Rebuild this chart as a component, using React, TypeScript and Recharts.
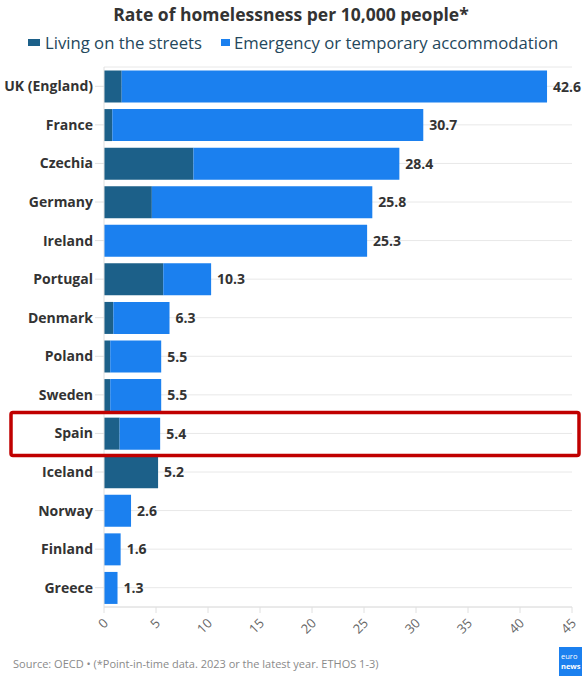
import React from 'react';
import { BarChart, Bar, XAxis, YAxis, CartesianGrid, LabelList } from 'recharts';

const countries = ['UK (England)', 'France', 'Czechia', 'Germany', 'Ireland', 'Portugal', 'Denmark', 'Poland', 'Sweden', 'Spain', 'Iceland', 'Norway', 'Finland', 'Greece'];
const totals = [42.6, 30.7, 28.4, 25.8, 25.3, 10.3, 6.3, 5.5, 5.5, 5.4, 5.2, 2.6, 1.6, 1.3];
const streets = [1.7, 0.8, 8.6, 4.6, 0, 5.7, 0.9, 0.6, 0.6, 1.5, 5.2, 0, 0, 0];
const xTicks = [0, 5, 10, 15, 20, 25, 30, 35, 40, 45];
const highlighted = 'Spain';

const DARK = '#1c6089';
const BLUE = '#1b80ef';
const FONT = '"Open Sans", "Noto Sans", sans-serif';

const data = countries.map((name, i) => {
  const emergency = Math.round((totals[i] - streets[i]) * 10) / 10;
  return {
    name,
    streets: streets[i],
    emergency,
    total: totals[i],
    // label sits on whichever segment ends the bar
    endOnStreets: emergency === 0 ? totals[i] : null,
    endOnEmergency: emergency === 0 ? null : totals[i],
  };
});

function CountryTick(props: any) {
  const { x, y, payload } = props;
  return (
    <g>
      {payload.value === highlighted && (
        <rect x={11} y={y - 21} width={568} height={43} rx={2} fill="none" stroke="#c00000" strokeWidth={3.5} />
      )}
      <text x={x} y={y} dy={5} textAnchor="end" fontSize={14} fontWeight={700} fill="#333" fontFamily={FONT}>
        {payload.value}
      </text>
    </g>
  );
}

function ValueTick(props: any) {
  const { x, y, payload } = props;
  const ax = x + 5;
  const ay = y + 9;
  return (
    <text x={ax} y={ay} transform={`rotate(-45, ${ax}, ${ay})`} textAnchor="end" fontSize={13} fill="#666" fontFamily={FONT}>
      {payload.value}
    </text>
  );
}

function TotalLabel(props: any) {
  const { x, y, width, height, value } = props;
  if (value === null || value === undefined) return null;
  return (
    <text x={x + width + 6} y={y + height / 2} dy={5} fontSize={14} fontWeight={700} fill="#333" fontFamily={FONT}>
      {value}
    </text>
  );
}

export default function App() {
  return (
    <div style={{ position: 'absolute', left: 0, top: 0, width: 582, height: 676, background: '#fff', fontFamily: FONT, overflow: 'hidden' }}>
      <div style={{ position: 'absolute', top: 2, left: 0, width: 582, textAlign: 'center', fontSize: 17.5, fontWeight: 700, color: '#333' }}>
        Rate of homelessness per 10,000 people*
      </div>
      <div style={{ position: 'absolute', top: 31, left: 28, display: 'flex', alignItems: 'center', fontSize: 16.7, color: '#24475c', whiteSpace: 'nowrap' }}>
        <span style={{ display: 'inline-block', width: 12, height: 7, background: DARK, marginRight: 5 }} />
        <span>Living on the streets</span>
        <span style={{ display: 'inline-block', width: 9, height: 7, background: BLUE, marginLeft: 19, marginRight: 4 }} />
        <span>Emergency or temporary accommodation</span>
      </div>
      <div style={{ position: 'absolute', top: 0, left: 0 }}>
        <BarChart
          width={582}
          height={676}
          data={data}
          layout="vertical"
          margin={{ top: 67, right: 10, bottom: 29, left: 0 }}
          barCategoryGap={3.5}
        >
          <CartesianGrid horizontal={true} vertical={false} stroke="#e8e8e8" />
          <XAxis
            type="number"
            domain={[0, 45]}
            ticks={xTicks}
            height={40}
            stroke="#e0e0e0"
            tickSize={6}
            tick={<ValueTick />}
            interval={0}
          />
          <YAxis
            type="category"
            dataKey="name"
            width={104}
            stroke="#e0e0e0"
            tickSize={9}
            tickMargin={2}
            tick={<CountryTick />}
            interval={0}
          />
          <Bar dataKey="streets" stackId="a" fill={DARK} isAnimationActive={false}>
            <LabelList dataKey="endOnStreets" content={<TotalLabel />} />
          </Bar>
          <Bar dataKey="emergency" stackId="a" fill={BLUE} isAnimationActive={false}>
            <LabelList dataKey="endOnEmergency" content={<TotalLabel />} />
          </Bar>
        </BarChart>
      </div>
      <div style={{ position: 'absolute', left: 13, top: 656, fontSize: 11, color: '#8a8a8a', whiteSpace: 'nowrap' }}>
        Source: OECD • (*Point-in-time data. 2023 or the latest year. ETHOS 1-3)
      </div>
      <div style={{ position: 'absolute', left: 559, top: 647, width: 23, height: 29, background: BLUE, color: '#fff', fontSize: 7.5, lineHeight: '10px', paddingTop: 4, paddingLeft: 2, boxSizing: 'border-box', overflow: 'hidden', whiteSpace: 'nowrap' }}>
        <div>euro</div>
        <div style={{ fontWeight: 700 }}>news</div>
      </div>
    </div>
  );
}
